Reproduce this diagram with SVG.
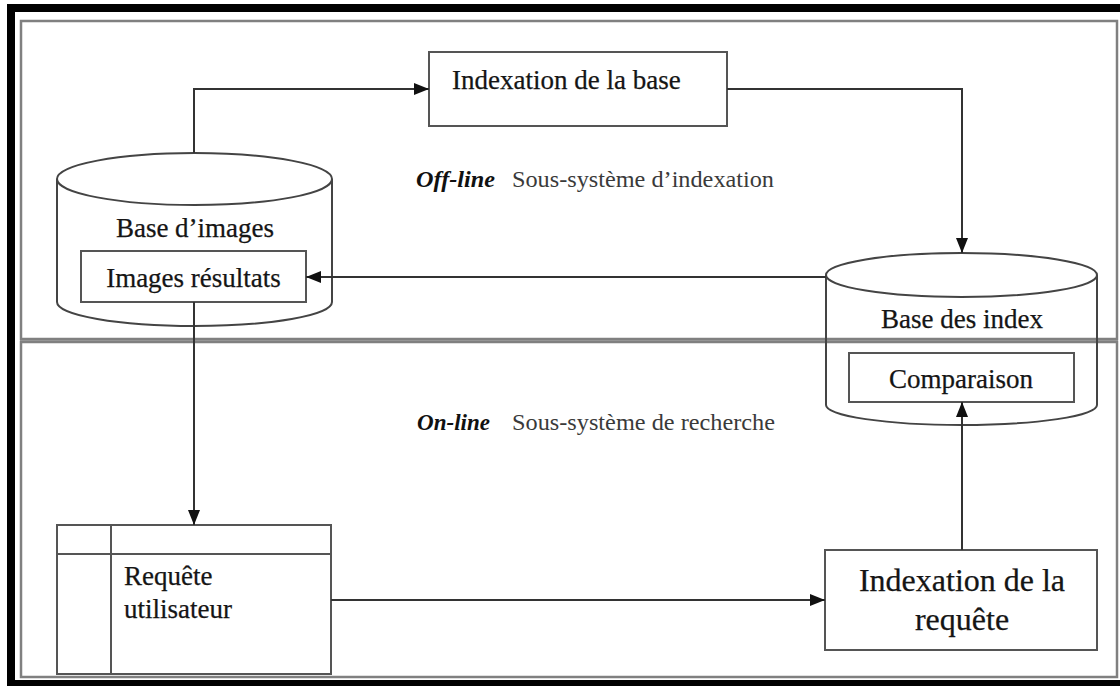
<svg xmlns="http://www.w3.org/2000/svg" width="1120" height="686" viewBox="0 0 1120 686">
  <style>
    .frame { fill: none; stroke: #808080; stroke-width: 2.5; }
    .box { fill: #ffffff; stroke: #555555; stroke-width: 2; }
    .cyl { fill: none; stroke: #444444; stroke-width: 2; }
    .wire { fill: none; stroke: #333333; stroke-width: 2; }
    .lbl { font-family: "Liberation Serif", "Times New Roman", serif; font-size: 27px; fill: #151515; stroke: #151515; stroke-width: 0.25; }
    .big { font-size: 32px; }
    .mode { font-family: "Liberation Serif", "Times New Roman", serif; font-size: 23px; font-weight: bold; font-style: italic; fill: #111111; }
    .sub { font-family: "Liberation Serif", "Times New Roman", serif; font-size: 23px; fill: #3a3a3a; }
  </style>
  <defs>
    <marker id="arrow" viewBox="0 0 15 12" markerWidth="15" markerHeight="12" refX="15" refY="6" orient="auto" markerUnits="userSpaceOnUse">
      <path d="M0,0 L15,6 L0,12 z" fill="#111111"/>
    </marker>
  </defs>

  <rect width="1120" height="686" fill="#ffffff"/>

  <!-- outer black border -->
  <g id="border">
    <rect x="7" y="4" width="1113" height="8" fill="#000000"/>
    <rect x="7" y="4" width="8" height="682" fill="#000000"/>
    <rect x="7" y="680" width="1113" height="6" fill="#000000"/>
  </g>

  <!-- the two sub-system panels, separated by a grey band -->
  <g id="panels">
    <rect x="20" y="338" width="1098" height="5" fill="#a6a6a6"/>
    <rect class="frame" x="21" y="21" width="1096" height="318"/>
    <rect class="frame" x="21" y="342" width="1096" height="335"/>
  </g>

  <!-- panel captions -->
  <g id="caption-offline">
    <text class="mode" x="416" y="187" textLength="79" lengthAdjust="spacingAndGlyphs">Off-line</text>
    <text class="sub" x="512" y="187" textLength="262" lengthAdjust="spacingAndGlyphs">Sous-système d’indexation</text>
  </g>
  <g id="caption-online">
    <text class="mode" x="417" y="430" textLength="73" lengthAdjust="spacingAndGlyphs">On-line</text>
    <text class="sub" x="512" y="430" textLength="263" lengthAdjust="spacingAndGlyphs">Sous-système de recherche</text>
  </g>

  <!-- nodes -->
  <g id="indexation-base">
    <rect class="box" x="429" y="52" width="298" height="74"/>
    <text class="lbl" x="452" y="89">Indexation de la base</text>
  </g>

  <g id="base-images">
    <path class="cyl" d="M57,179 V302 A137.5,24 0 0 0 332,302 V179"/>
    <ellipse class="cyl" cx="194.5" cy="179" rx="137.5" ry="26"/>
    <text class="lbl" x="195" y="237" text-anchor="middle">Base d’images</text>
  </g>

  <g id="images-resultats">
    <rect class="box" x="81" y="251" width="225" height="51"/>
    <text class="lbl" x="193.5" y="287" text-anchor="middle">Images résultats</text>
  </g>

  <g id="base-index">
    <path class="cyl" d="M826,275 V405 A135.5,20 0 0 0 1097,405 V275"/>
    <ellipse class="cyl" cx="961.5" cy="275" rx="135.5" ry="22"/>
    <text class="lbl" x="962" y="328" text-anchor="middle">Base des index</text>
  </g>

  <g id="comparaison">
    <rect class="box" x="849" y="353" width="225" height="49"/>
    <text class="lbl" x="961" y="388" text-anchor="middle">Comparaison</text>
  </g>

  <g id="requete-utilisateur">
    <rect class="box" x="57" y="525" width="274" height="149"/>
    <line class="box" x1="57" y1="554" x2="331" y2="554"/>
    <line class="box" x1="111" y1="525" x2="111" y2="674"/>
    <text class="lbl" x="124" y="585">Requête</text>
    <text class="lbl" x="124" y="618">utilisateur</text>
  </g>

  <g id="indexation-requete">
    <rect class="box" x="825" y="550" width="272" height="100"/>
    <text class="lbl big" x="962" y="591" text-anchor="middle">Indexation de la</text>
    <text class="lbl big" x="962" y="630" text-anchor="middle">requête</text>
  </g>

  <!-- connectors -->
  <g id="connectors">
    <path class="wire" d="M194,153 V89 H429" marker-end="url(#arrow)"/>
    <path class="wire" d="M727,89 H962 V253" marker-end="url(#arrow)"/>
    <path class="wire" d="M826,277 H306" marker-end="url(#arrow)"/>
    <path class="wire" d="M194,302 V525" marker-end="url(#arrow)"/>
    <path class="wire" d="M331,600 H825" marker-end="url(#arrow)"/>
    <path class="wire" d="M962,550 V402" marker-end="url(#arrow)"/>
  </g>
</svg>
